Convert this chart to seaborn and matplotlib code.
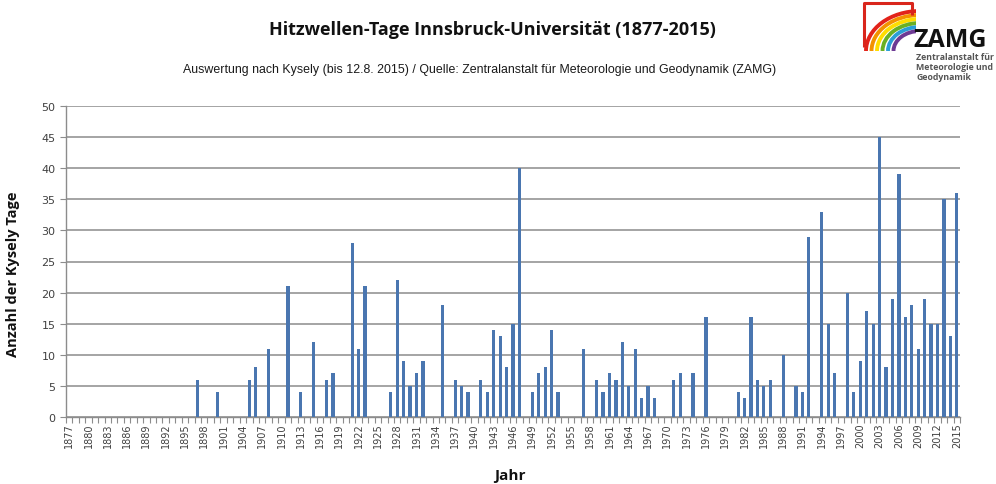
import matplotlib
matplotlib.use("Agg")
import matplotlib.pyplot as plt
from matplotlib.patches import Arc
import seaborn as sns
import pandas as pd
import numpy as np

# Hitzewellen-Tage (Kysely) Innsbruck-Universitaet, 1877-2015
jahre = list(range(1877, 2016))
kysely_tage = [
    0, 0, 0, 0, 0, 0, 0, 0, 0, 0,       # 1877-1886
    0, 0, 0, 0, 0, 0, 0, 0, 0, 0,       # 1887-1896
    6, 0, 0, 4, 0, 0, 0, 0, 6, 8,       # 1897-1906
    0, 11, 0, 0, 21, 0, 4, 0, 12, 0,    # 1907-1916
    6, 7, 0, 0, 28, 11, 21, 0, 0, 0,    # 1917-1926
    4, 22, 9, 5, 7, 9, 0, 0, 18, 0,     # 1927-1936
    6, 5, 4, 0, 6, 4, 14, 13, 8, 15,    # 1937-1946
    40, 0, 4, 7, 8, 14, 4, 0, 0, 0,     # 1947-1956
    11, 0, 6, 4, 7, 6, 12, 5, 11, 3,    # 1957-1966
    5, 3, 0, 0, 6, 7, 0, 7, 0, 16,      # 1967-1976
    0, 0, 0, 0, 4, 3, 16, 6, 5, 6,      # 1977-1986
    0, 10, 0, 5, 4, 29, 0, 33, 15, 7,   # 1987-1996
    0, 20, 4, 9, 17, 15, 45, 8, 19, 39, # 1997-2006
    16, 18, 11, 19, 15, 15, 35, 13, 36  # 2007-2015
]
tick_labels = [str(j) for j in jahre[::3]]
y_ticks = list(range(0, 51, 5))
logo_farben = ["#e2231a", "#f39200", "#ffdd00", "#6ab023", "#2a9fd6", "#6d3a94"]

df = pd.DataFrame({"Jahr": jahre, "Tage": kysely_tage})

sns.set_theme(style="white")
plt.rcParams['font.family'] = ['DejaVu Sans']

fig = plt.figure(figsize=(9.96, 4.85), dpi=100)
ax = fig.add_axes([66/996, 1-418/485, 894/996, 311/485])

sns.barplot(data=df, x="Jahr", y="Tage", order=jahre, color="#4a76b0",
            saturation=1, width=0.5, linewidth=0, antialiased=False, ax=ax, zorder=3)

ax.set_xlim(-0.5, len(jahre)-0.5)
ax.set_ylim(0, 50)
ax.set_yticks(y_ticks)
ax.yaxis.grid(True, color="#8c8c8c", linewidth=1.1, zorder=0)
ax.set_axisbelow(True)

ax.set_xticks(np.arange(0, len(jahre), 3))
ax.set_xticklabels(tick_labels, rotation=90, fontsize=7, color="#404040")
ax.set_xticks(np.arange(-0.5, len(jahre), 1), minor=True)
ax.tick_params(axis="x", which="major", length=0, pad=4)
ax.tick_params(axis="x", which="minor", length=4, color="#8c8c8c", width=0.8, bottom=True)
ax.tick_params(axis="y", length=4, color="#8c8c8c", width=0.8, left=True,
               labelsize=8, labelcolor="#404040")

for s in ["top", "right"]:
    ax.spines[s].set_visible(False)
for s in ["left", "bottom"]:
    ax.spines[s].set_color("#8c8c8c")
    ax.spines[s].set_linewidth(1.0)

ax.set_xlabel("")
ax.set_ylabel("")
fig.text(13/996, 1-274/485, "Anzahl der Kysely Tage", rotation=90, ha="center", va="center",
         fontsize=10.5, fontweight="bold", family=["Open Sans", "DejaVu Sans"], color="#111111")
fig.text(510/996, 1-476/485, "Jahr", ha="center", va="center",
         fontsize=11, fontweight="bold", family=["Open Sans", "DejaVu Sans"], color="#111111")

fig.text(492/996, 1-30/485, "Hitzwellen-Tage Innsbruck-Universität (1877-2015)", ha="center", va="center",
         fontsize=13, fontweight="bold", family=["Open Sans", "DejaVu Sans"], color="#111111")
fig.text(480/996, 1-70/485,
         "Auswertung nach Kysely (bis 12.8. 2015) / Quelle: Zentralanstalt für Meteorologie und Geodynamik (ZAMG)",
         ha="center", va="center", fontsize=8.9, family=["Liberation Sans", "DejaVu Sans"], color="#1a1a1a")

# ZAMG logo
lax = fig.add_axes([862/996, 1-52/485, 54/996, 50/485])
lax.set_xlim(0, 54)
lax.set_ylim(0, 50)
lax.axis("off")
lax.plot([2, 2, 50, 50], [4, 48, 48, 36], color="#d9261c", lw=2.2, solid_capstyle="butt")
for i, c in enumerate(logo_farben):
    r_w = 108 - i*11
    r_h = 80 - i*8
    lax.add_patch(Arc((58, 0), r_w, r_h, theta1=90, theta2=180, color=c, lw=2.8))
fig.text(913/996, 1-47/485, "ZAMG", ha="left", va="baseline", fontsize=18, fontweight="bold",
         family=["Open Sans", "DejaVu Sans"], color="#111111")
for k, t in enumerate(["Zentralanstalt für", "Meteorologie und", "Geodynamik"]):
    fig.text(916/996, 1-(58+k*9.5)/485, t, ha="left", va="center", fontsize=6.3, fontweight="bold",
             family=["Open Sans", "DejaVu Sans"], color="#555555")

fig.savefig("out.png", dpi=100)
